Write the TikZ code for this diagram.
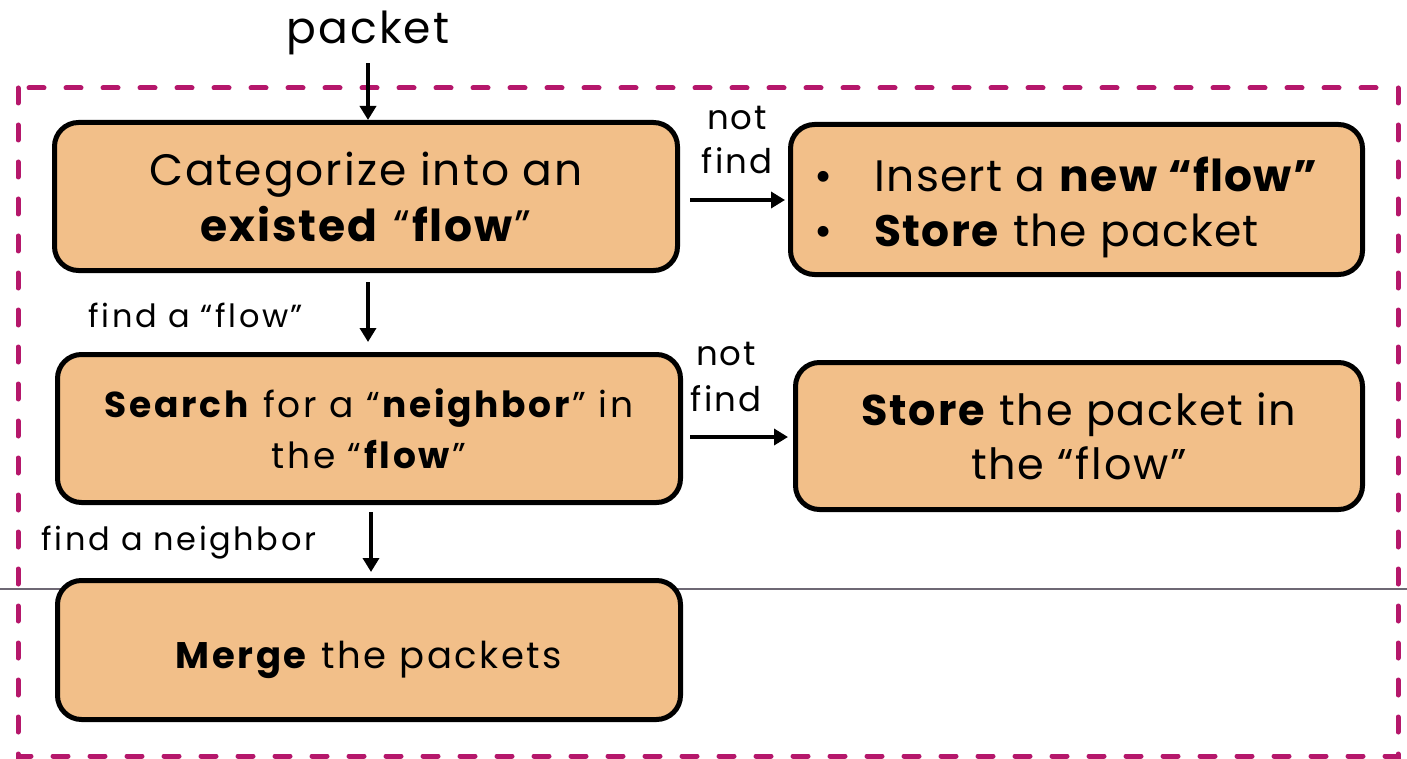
\documentclass[tikz,border=0pt]{standalone}
\usepackage{fontspec}
\setmainfont{Poppins}
\usetikzlibrary{arrows.meta}
\definecolor{peach}{RGB}{242,191,137}
\definecolor{framepink}{RGB}{181,23,107}
\definecolor{rulegray}{RGB}{110,104,116}
\newcommand\spaced[1]{\addfontfeature{LetterSpace=#1}}
\begin{document}
\begin{tikzpicture}[x=1pt,y=-1pt,
  stepbox/.style={draw=black, line width=5pt, fill=peach, rounded corners=24pt,
    align=center, inner sep=0pt},
  arr/.style={line width=4pt, -{Triangle[length=14pt,width=16pt]}},
  big/.style={font=\fontsize{44}{56}\selectfont\spaced{4.5}},
  mid/.style={font=\fontsize{36}{51}\selectfont\spaced{7.5}},
  lbl/.style={font=\fontsize{32}{44}\selectfont\spaced{8}, align=center, inner sep=0pt},
]
\useasboundingbox (0,0) rectangle (1407,759);

% thin horizontal rule running across the slide
\coordinate (rl) at (0,589);
\coordinate (rr) at (1407,589);
\draw[rulegray, line width=1.2pt] (rl) -- (rr);

% dashed frame
\draw[framepink, line width=5pt, line cap=round, dash pattern=on 15pt off 22pt]
  (18,88) rectangle (1398,756);

% boxes
\node[stepbox, big, minimum width=623pt, minimum height=148pt] (b1) at (366,196.5)
  {Categorize into an\\\textbf{existed} “\textbf{flow}”};
\node[stepbox, font=\fontsize{44}{55}\selectfont\spaced{3}, minimum width=572pt, minimum height=150pt, align=left] (b2) at (1076.5,199.5)
  {\rule{0pt}{50pt}\makebox[60pt][l]{•}Insert a \textbf{new “flow”}\hspace*{20pt}\\\makebox[60pt][l]{•}\textbf{Store} the packet};
\node[stepbox, mid, minimum width=623pt, minimum height=148pt] (b3) at (369,428.5)
  {\textbf{Search} for a “\textbf{neighbor}” in\\the “\textbf{flow}”};
\node[stepbox, font=\fontsize{43}{54}\selectfont\spaced{4}, minimum width=567pt, minimum height=147pt] (b4) at (1079,436)
  {\textbf{Store} the packet in\\the “flow”};
\node[stepbox, font=\fontsize{37}{46}\selectfont\spaced{7}, minimum width=623pt, minimum height=139pt,
  text height=44pt, text depth=8pt] (b5) at (369,650)
  {\textbf{Merge} the packets};

% labels
\node[big, inner sep=0pt] (pk) at (368,33) {packet};
\node[lbl, font=\fontsize{34}{44}\selectfont\spaced{6}] (nf1) at (737,140) {not\\find};
\node[lbl, font=\fontsize{34}{46}\selectfont\spaced{6}] (nf2) at (726,377) {not\\find};
\node[lbl] (ff) at (196,315) {find a “flow”};
\node[lbl] (fn) at (179,543) {find a neighbor};

% connectors
\coordinate (h1) at (0,200);
\coordinate (h2) at (0,437);
\coordinate (v1) at (368,0);
\coordinate (v2) at (371,0);
\draw[arr, shorten <=8pt] (pk.south -| v1) -- (b1.north -| v1);
\draw[arr, shorten <=9pt, shorten >=10pt] (b1.south -| v1) -- (b3.north -| v1);
\draw[arr, shorten <=7pt, shorten >=6pt] (b3.south -| v2) -- (b5.north -| v2);
\draw[arr, shorten <=10pt, shorten >=3pt] (b1.east |- h1) -- (b2.west |- h1);
\draw[arr, shorten <=7pt, shorten >=5pt] (b3.east |- h2) -- (b4.west |- h2);
\end{tikzpicture}
\end{document}
